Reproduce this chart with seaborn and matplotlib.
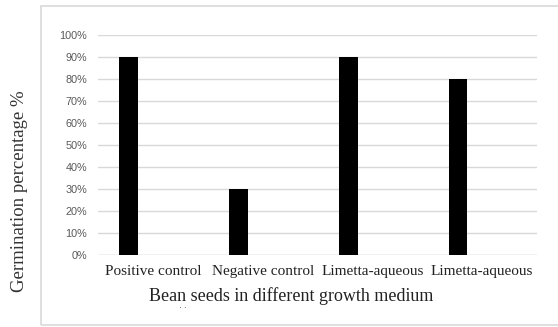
import matplotlib
matplotlib.use("Agg")
import matplotlib.pyplot as plt
import matplotlib.patches as mpatches
from matplotlib.ticker import PercentFormatter, MultipleLocator
import seaborn as sns
import pandas as pd

# Data
categories = ["Positive control", "Negative control", "Limetta-aqueous", "Limetta-aqueous"]
category_keys = ["c1", "c2", "c3", "c4"]
germination = [0.90, 0.30, 0.90, 0.80]
empty_series = [0.0, 0.0, 0.0, 0.0]
series_names = ["Germination", "Blank"]

df = pd.DataFrame({
    "key": category_keys * 2,
    "value": germination + empty_series,
    "series": [series_names[0]] * 4 + [series_names[1]] * 4,
})

sns.set_theme(style="white")
fig = plt.figure(figsize=(5.58, 3.27), dpi=100)
ax = fig.add_axes([98/558, 1-255/327, (537-98)/558, (255-35)/327])

sns.barplot(data=df, x="key", y="value", hue="series", hue_order=series_names,
            order=category_keys, palette=["black", "white"], width=0.88, gap=0.61,
            linewidth=0, legend=False, ax=ax, errorbar=None)

ax.set_ylim(0, 1.0)
ax.yaxis.set_major_locator(MultipleLocator(0.1))
ax.yaxis.set_major_formatter(PercentFormatter(1.0, decimals=0))
ax.grid(axis="y", color="#d9d9d9", linewidth=1.0)
ax.set_axisbelow(True)
for s in ax.spines.values():
    s.set_visible(False)
ax.axhline(0, color="#d9d9d9", linewidth=1.0, zorder=0)

ax.set_xticks(range(len(categories)))
ax.set_xticklabels(categories, fontfamily="Liberation Serif", fontsize=11, color="#222222")
ax.tick_params(axis="x", length=0, pad=7)
ax.tick_params(axis="y", length=0, pad=8, labelsize=7.8, labelcolor="#595959")
for lab in ax.get_yticklabels():
    lab.set_fontfamily("Liberation Sans")
ax.set_xlabel("")
ax.set_ylabel("")

fig.text(291/558, 1-296/327, "Bean seeds in different growth medium",
         ha="center", va="center", fontfamily="Liberation Serif", fontsize=13, color="#222222")
fig.text(20/558, 1-191/327, "Germination percentage %", rotation=90,
         ha="center", va="center", fontfamily="Liberation Serif", fontsize=13.5, color="#333333")
fig.text(183/558, 1-312/327, "\u02d9\u02d9", ha="center", va="center", fontsize=7,
         fontfamily="DejaVu Sans", color="#555555")

frame = mpatches.Rectangle((41/558, 1-325/327), 1.0, (325-6)/327, transform=fig.transFigure,
                           fill=False, edgecolor="#d9d9d9", linewidth=1.2)
fig.patches.append(frame)

fig.savefig("out.png", dpi=100, facecolor="white")
